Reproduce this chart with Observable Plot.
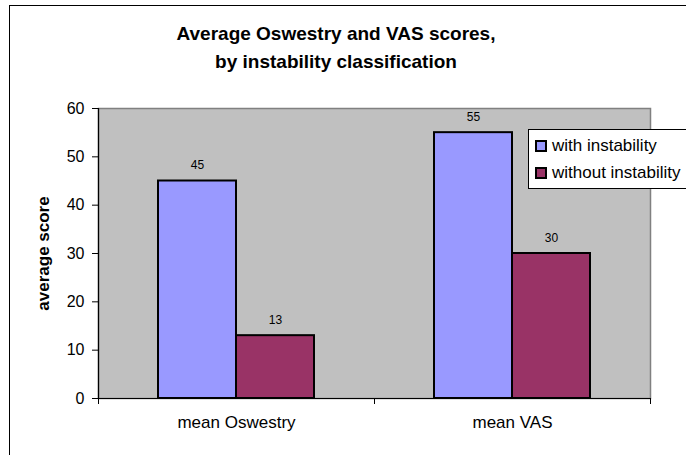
<!DOCTYPE html>
<html>
<head>
<meta charset="utf-8">
<script src="https://cdn.jsdelivr.net/npm/d3@7"></script>
<script src="https://cdn.jsdelivr.net/npm/@observablehq/plot@0.6"></script>
<style>
  body { margin: 0; background: #fff; font-family: "Liberation Sans", Arial, sans-serif; }
  #chart { position: relative; width: 686px; height: 455px; overflow: hidden; background: #fff; }
  #border { position: absolute; left: 9px; top: 5px; width: 720px; height: 520px; border: 1px solid #000; }
  #title { position: absolute; left: 0; top: 20px; width: 672px; text-align: center;
           font-size: 19px; font-weight: bold; line-height: 28px; color: #000; }
  #plot { position: absolute; left: 0; top: 90px; }
  #legend { position: absolute; left: 528px; top: 129px; width: 170px; height: 58px;
            background: #fff; border: 1px solid #000; }
  .item { position: absolute; left: 6px; height: 20px; display: flex; align-items: center;
          font-size: 17px; white-space: nowrap; color: #000; }
  .swatch { width: 8px; height: 8px; border: 2px solid #000; margin-right: 5px; }
  svg.bars g[aria-label="y-axis label"] text { font-weight: bold; font-size: 17px; }
</style>
</head>
<body>
<div id="chart">
  <div id="border"></div>
  <div id="title">Average Oswestry and VAS scores,<br>by instability classification</div>
  <div id="plot"></div>
  <div id="legend"></div>
</div>
<script>
// Chart values
const categories = ["mean Oswestry", "mean VAS"];
const series = ["with instability", "without instability"];
const withInstability = [45, 55];
const withoutInstability = [13, 30];
const yTicks = [0, 10, 20, 30, 40, 50, 60];
const seriesColors = ["#9999ff", "#993366"];

// Layout of the SVG plot area
const W = 686, H = 365;
const ML = 98, MR = 36, MT = 18, MB = 57;
const halfFacet = (W - ML - MR) / categories.length / 2;

const rows = categories.flatMap((c, i) => [
  {category: c, series: series[0], value: withInstability[i]},
  {category: c, series: series[1], value: withoutInstability[i]}
]);

const chart = Plot.plot({
  width: W,
  height: H,
  marginLeft: ML,
  marginRight: MR,
  marginTop: MT,
  marginBottom: MB,
  className: "bars",
  style: {fontFamily: "'Liberation Sans', Arial, sans-serif", color: "#000", background: "transparent", overflow: "visible"},
  fx: {domain: categories, padding: 0, axis: null, label: null},
  x: {domain: series, paddingInner: 0, paddingOuter: 0.747, axis: null},
  y: {domain: [0, 60], axis: null},
  color: {domain: series, range: seriesColors},
  marks: [
    // gray plot area with its border
    Plot.frame({fill: "#c0c0c0", stroke: "#808080", strokeWidth: 1.5, facet: "super"}),
    Plot.barY(rows, {fx: "category", x: "series", y: "value", fill: "series", stroke: "#000", strokeWidth: 2}),
    Plot.text(rows, {fx: "category", x: "series", y: "value", text: d => String(d.value),
                     lineAnchor: "bottom", dy: -12, fontSize: 12, fill: "#000"}),
    // value axis
    Plot.frame({anchor: "left", stroke: "#000", strokeWidth: 1.2, facet: "super"}),
    Plot.axisY({ticks: yTicks, tickSize: 6, tickPadding: 8, fontSize: 16,
                label: "average score", labelAnchor: "center", labelArrow: "none",
                labelOffset: 62, stroke: "#000"}),
    // category axis: baseline, boundary ticks and labels
    Plot.ruleY([0], {stroke: "#000", strokeWidth: 1.2}),
    Plot.axisFx({anchor: "bottom", tickSize: 6, dx: -halfFacet, tickFormat: () => "", label: null}),
    Plot.axisFx({anchor: "bottom", tickSize: 6, dx: halfFacet, tickFormat: () => "", label: null}),
    Plot.axisFx({anchor: "bottom", tickSize: 0, tickPadding: 17, fontSize: 17, label: null})
  ]
});
document.getElementById("plot").appendChild(chart);

// Legend built from the chart's color scale
const color = chart.scale("color");
const legend = document.getElementById("legend");
color.domain.forEach((name, i) => {
  const item = document.createElement("div");
  item.className = "item";
  item.style.top = (6 + i * 27) + "px";
  const sw = document.createElement("span");
  sw.className = "swatch";
  sw.style.background = color.range[i];
  item.appendChild(sw);
  item.appendChild(document.createTextNode(name));
  legend.appendChild(item);
});
</script>
</body>
</html>
